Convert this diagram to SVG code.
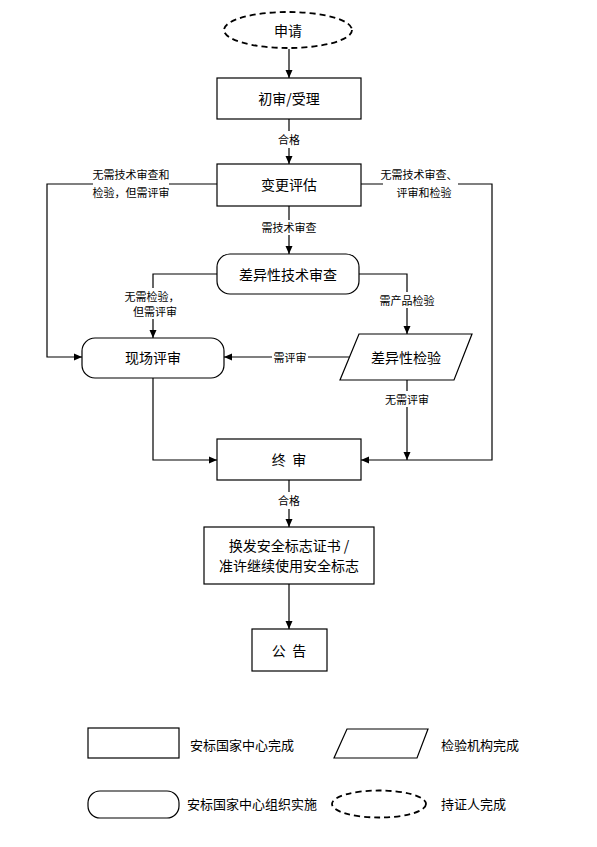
<svg xmlns="http://www.w3.org/2000/svg" width="597" height="847" viewBox="0 0 597 847">
<defs>
<marker id="arr" markerUnits="userSpaceOnUse" markerWidth="8" markerHeight="8" viewBox="0 0 8 8" refX="8" refY="4" orient="auto">
<path d="M0,0.5 L8,4 L0,7.5 Z" fill="#000"/>
</marker>
<style>
.n{fill:#fff;stroke:#000;stroke-width:1.2}
.d{fill:#fff;stroke:#000;stroke-width:1.8;stroke-dasharray:6,4}
.c{fill:none;stroke:#000;stroke-width:1.2}
.t{font-family:"Noto Sans CJK SC","Liberation Sans",sans-serif;font-size:14px;fill:#000;text-anchor:middle;dominant-baseline:central;white-space:pre}
.s{font-family:"Noto Sans CJK SC","Liberation Sans",sans-serif;font-size:11px;fill:#000;text-anchor:middle;dominant-baseline:central}
.l{font-family:"Noto Sans CJK SC","Liberation Sans",sans-serif;font-size:13px;fill:#000;dominant-baseline:central}
.bg{fill:#fff;stroke:none}
</style>
</defs>
<rect width="597" height="847" fill="#fff"/>
<g id="connectors">
<path class="c" d="M289,49 V78" marker-end="url(#arr)"/>
<path class="c" d="M289,119 V164" marker-end="url(#arr)"/>
<path class="c" d="M289,206 V254" marker-end="url(#arr)"/>
<path class="c" d="M217,184 H47 V357 H82" marker-end="url(#arr)"/>
<path class="c" d="M361,184 H492 V460 H361" marker-end="url(#arr)"/>
<path class="c" d="M217,274 H153 V338" marker-end="url(#arr)"/>
<path class="c" d="M359,274 H407 V334" marker-end="url(#arr)"/>
<path class="c" d="M349,357 H224" marker-end="url(#arr)"/>
<path class="c" d="M407,380 V460" marker-end="url(#arr)"/>
<path class="c" d="M153,378 V460 H217" marker-end="url(#arr)"/>
<path class="c" d="M289,480 V527" marker-end="url(#arr)"/>
<path class="c" d="M289,584 V629" marker-end="url(#arr)"/>
<rect class="bg" x="276" y="131" width="26" height="17"/>
<text class="s" x="289" y="139">合格</text>
<rect class="bg" x="262" y="220" width="54" height="15"/>
<text class="s" x="289" y="227">需技术审查</text>
<rect class="bg" x="93" y="166" width="76" height="34"/>
<text class="s" x="131" y="174">无需技术审查和</text>
<text class="s" x="131" y="192">检验，但需评审</text>
<rect class="bg" x="383" y="166" width="75" height="34"/>
<text class="s" x="419" y="174">无需技术审查、</text>
<text class="s" x="424" y="192">评审和检验</text>
<rect class="bg" x="125" y="288" width="56" height="31"/>
<text class="s" x="152" y="296">无需检验，</text>
<text class="s" x="155" y="311">但需评审</text>
<rect class="bg" x="380" y="292" width="55" height="16"/>
<text class="s" x="407" y="300">需产品检验</text>
<rect class="bg" x="272" y="349" width="36" height="16"/>
<text class="s" x="290" y="357">需评审</text>
<rect class="bg" x="384" y="391" width="46" height="16"/>
<text class="s" x="407" y="399">无需评审</text>
<rect class="bg" x="276" y="492" width="26" height="17"/>
<text class="s" x="289" y="500">合格</text>
</g>
<g id="shenqing">
<ellipse class="d" cx="288" cy="30" rx="64" ry="18"/>
<text class="t" x="288" y="30">申请</text>
</g>
<g id="chushen">
<rect class="n" x="217" y="78" width="144" height="41"/>
<text class="t" x="289" y="98">初审/受理</text>
</g>
<g id="biangeng">
<rect class="n" x="217" y="164" width="144" height="42"/>
<text class="t" x="289" y="184">变更评估</text>
</g>
<g id="chayi">
<rect class="n" x="217" y="254" width="142" height="40" rx="13" ry="13"/>
<text class="t" x="288" y="274">差异性技术审查</text>
</g>
<g id="xianchang">
<rect class="n" x="82" y="338" width="142" height="40" rx="13" ry="13"/>
<text class="t" x="153" y="357">现场评审</text>
</g>
<g id="jianyan">
<polygon class="n" points="359,334 472,334 454,380 340,380"/>
<text class="t" x="406" y="357">差异性检验</text>
</g>
<g id="zhongshen">
<rect class="n" x="217" y="439" width="144" height="41"/>
<text class="t" x="289" y="459">终  审</text>
</g>
<g id="huanfa">
<rect class="n" x="204" y="527" width="170" height="57"/>
<text class="t" x="289" y="545">换发安全标志证书 /</text>
<text class="t" x="289" y="565">准许继续使用安全标志</text>
</g>
<g id="gonggao">
<rect class="n" x="252" y="629" width="75" height="42"/>
<text class="t" x="289" y="650">公  告</text>
</g>
<g id="legend">
<rect class="n" x="88" y="728" width="91" height="30"/>
<text class="l" x="190" y="744">安标国家中心完成</text>
<polygon class="n" points="347,729 428,729 417,758 334,758"/>
<text class="l" x="441" y="744">检验机构完成</text>
<rect class="n" x="88" y="791" width="91" height="27" rx="12" ry="12"/>
<text class="l" x="187" y="803">安标国家中心组织实施</text>
<ellipse class="d" cx="379" cy="804" rx="47" ry="13.5"/>
<text class="l" x="441" y="803">持证人完成</text>
</g>
</svg>
